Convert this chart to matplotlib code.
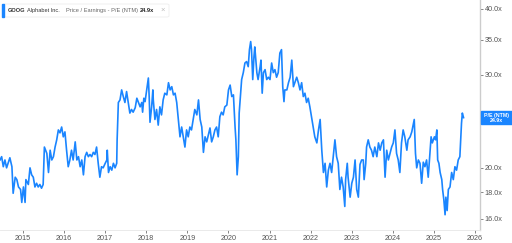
import matplotlib
matplotlib.use("Agg")
import matplotlib.pyplot as plt
import numpy as np
from matplotlib.patches import FancyBboxPatch, Rectangle

# GOOG forward P/E (NTM)
years = [
    2014.44, 2014.48, 2014.52, 2014.56, 2014.60, 2014.68, 2014.73, 2014.76, 2014.81, 2014.85,
    2014.89, 2014.94, 2014.97, 2015.01, 2015.05, 2015.07, 2015.13, 2015.17, 2015.21, 2015.25,
    2015.29, 2015.33, 2015.37, 2015.41, 2015.45, 2015.49, 2015.52, 2015.58, 2015.62, 2015.66,
    2015.70, 2015.74, 2015.78, 2015.82, 2015.86, 2015.90, 2015.94, 2015.98, 2016.02, 2016.06,
    2016.10, 2016.14, 2016.18, 2016.22, 2016.27, 2016.31, 2016.35, 2016.39, 2016.43, 2016.47,
    2016.51, 2016.55, 2016.59, 2016.63, 2016.67, 2016.71, 2016.75, 2016.79, 2016.83, 2016.87,
    2016.91, 2016.95, 2017.00, 2017.04, 2017.05, 2017.08, 2017.12, 2017.16, 2017.20, 2017.24,
    2017.28, 2017.29, 2017.32, 2017.36, 2017.40, 2017.44, 2017.48, 2017.52, 2017.56, 2017.60,
    2017.64, 2017.68, 2017.73, 2017.77, 2017.81, 2017.85, 2017.89, 2017.91, 2017.94, 2017.97,
    2018.01, 2018.05, 2018.07, 2018.09, 2018.13, 2018.16, 2018.17, 2018.21, 2018.25, 2018.29,
    2018.33, 2018.37, 2018.41, 2018.45, 2018.50, 2018.54, 2018.58, 2018.62, 2018.66, 2018.70,
    2018.74, 2018.78, 2018.82, 2018.86, 2018.90, 2018.94, 2018.98, 2019.02, 2019.06, 2019.10,
    2019.14, 2019.18, 2019.23, 2019.27, 2019.31, 2019.35, 2019.39, 2019.43, 2019.47, 2019.51,
    2019.55, 2019.59, 2019.63, 2019.67, 2019.71, 2019.75, 2019.79, 2019.83, 2019.87, 2019.91,
    2019.96, 2020.00, 2020.04, 2020.08, 2020.12, 2020.16, 2020.18, 2020.20, 2020.21, 2020.24,
    2020.26, 2020.30, 2020.32, 2020.36, 2020.40, 2020.44, 2020.48, 2020.51, 2020.54, 2020.56,
    2020.59, 2020.62, 2020.64, 2020.69, 2020.72, 2020.77, 2020.79, 2020.82, 2020.85, 2020.89,
    2020.93, 2020.97, 2021.01, 2021.05, 2021.09, 2021.13, 2021.17, 2021.21, 2021.25, 2021.29,
    2021.32, 2021.35, 2021.37, 2021.42, 2021.46, 2021.50, 2021.54, 2021.58, 2021.62, 2021.66,
    2021.70, 2021.74, 2021.78, 2021.82, 2021.86, 2021.90, 2021.94, 2021.98, 2022.02, 2022.06,
    2022.10, 2022.15, 2022.19, 2022.23, 2022.27, 2022.31, 2022.35, 2022.39, 2022.43, 2022.47,
    2022.51, 2022.55, 2022.59, 2022.63, 2022.67, 2022.71, 2022.75, 2022.79, 2022.83, 2022.85,
    2022.89, 2022.91, 2022.96, 2023.00, 2023.04, 2023.08, 2023.12, 2023.16, 2023.20, 2023.24,
    2023.28, 2023.30, 2023.34, 2023.36, 2023.40, 2023.44, 2023.48, 2023.52, 2023.56, 2023.61,
    2023.65, 2023.69, 2023.73, 2023.77, 2023.81, 2023.85, 2023.89, 2023.93, 2023.97, 2024.01,
    2024.05, 2024.09, 2024.13, 2024.17, 2024.21, 2024.25, 2024.29, 2024.34, 2024.37, 2024.42,
    2024.46, 2024.50, 2024.52, 2024.55, 2024.58, 2024.62, 2024.66, 2024.70, 2024.74, 2024.78,
    2024.82, 2024.86, 2024.90, 2024.93, 2024.96, 2025.01, 2025.04, 2025.07, 2025.09, 2025.12,
    2025.15, 2025.19, 2025.21, 2025.24, 2025.27, 2025.29, 2025.32, 2025.35, 2025.39, 2025.43,
    2025.47, 2025.51, 2025.55, 2025.59, 2025.63, 2025.65, 2025.67, 2025.69, 2025.72,
]
pe = [
    20.7, 21.0, 20.1, 20.7, 20.0, 20.9, 20.1, 17.9, 19.2, 19.0,
    18.4, 18.2, 17.2, 18.4, 17.2, 19.0, 18.6, 20.0, 19.4, 19.2,
    18.4, 18.7, 18.4, 18.6, 18.3, 18.6, 21.9, 21.3, 19.6, 21.6,
    20.7, 21.0, 21.9, 22.6, 23.6, 23.3, 23.9, 22.9, 23.4, 21.6,
    20.1, 20.7, 21.6, 20.7, 22.4, 20.7, 21.0, 20.1, 20.7, 19.4,
    21.0, 21.4, 21.0, 21.2, 21.0, 21.4, 21.2, 21.9, 20.4, 19.2,
    20.1, 20.0, 20.4, 20.7, 21.6, 19.6, 20.1, 19.8, 20.4, 20.0,
    20.4, 22.6, 26.6, 26.9, 28.1, 27.3, 26.6, 27.9, 26.6, 25.4,
    25.8, 25.5, 26.0, 27.1, 26.6, 26.1, 26.6, 25.5, 27.1, 26.7,
    28.1, 29.6, 27.3, 24.4, 26.1, 28.1, 26.9, 24.7, 25.8, 24.1,
    26.1, 25.2, 26.9, 27.7, 27.5, 29.0, 28.1, 28.5, 27.5, 27.7,
    26.6, 24.7, 22.9, 23.9, 22.9, 21.9, 23.6, 22.9, 23.9, 23.6,
    24.7, 25.8, 25.2, 26.9, 24.7, 23.9, 21.4, 22.9, 22.4, 23.1,
    23.8, 22.4, 22.9, 23.6, 23.9, 22.9, 25.0, 25.5, 25.2, 26.1,
    26.3, 28.1, 28.7, 27.3, 27.5, 23.9, 22.6, 20.4, 19.4, 21.0,
    25.4, 28.1, 29.4, 30.3, 31.6, 31.8, 31.1, 33.5, 34.7, 33.5,
    29.4, 32.5, 33.9, 30.3, 29.4, 31.1, 32.0, 27.7, 30.3, 30.7,
    29.4, 29.7, 29.4, 31.6, 30.3, 30.7, 29.7, 30.3, 33.0, 33.5,
    28.5, 26.7, 28.1, 28.1, 29.0, 29.7, 32.0, 28.5, 29.1, 29.7,
    29.0, 28.1, 29.0, 27.3, 27.7, 26.6, 27.1, 26.1, 25.0, 23.9,
    22.9, 22.3, 23.6, 24.7, 21.6, 19.6, 20.4, 18.4, 19.8, 20.4,
    19.6, 21.0, 22.6, 21.0, 20.4, 18.2, 19.2, 18.4, 16.9, 19.0,
    20.4, 19.2, 17.6, 18.7, 19.2, 20.7, 18.2, 17.6, 20.3, 20.7,
    20.7, 19.0, 20.4, 21.9, 22.6, 21.9, 21.6, 21.0, 21.9, 21.0,
    22.3, 21.6, 22.3, 22.6, 19.2, 21.6, 20.7, 21.3, 21.9, 22.3,
    23.6, 21.3, 20.7, 19.6, 22.3, 23.6, 22.9, 21.6, 22.6, 22.9,
    23.4, 24.3, 24.7, 21.3, 20.0, 20.7, 20.4, 18.7, 20.5, 20.1,
    20.7, 19.2, 21.3, 22.9, 22.3, 22.9, 22.6, 23.6, 20.7, 20.4,
    19.6, 19.0, 18.2, 17.4, 16.3, 17.6, 16.6, 18.2, 18.4, 19.6,
    19.0, 20.1, 19.8, 20.7, 21.0, 22.6, 24.3, 25.4, 24.9,
]
# 25.0x sits behind the last-value badge in the reference, so it is not labelled
ytick_vals = [16, 18, 20, 30, 35, 40]
xtick_years = list(range(2015, 2027))
ticker = "GOOG"
company = "Alphabet Inc."
metric = "Price / Earnings - P/E (NTM)"
last_label = "24.9x"
series_name = "P/E (NTM)"

plt.rcParams["font.family"] = ["Liberation Sans", "DejaVu Sans"]

blue = "#1a85ff"
W, H = 512, 243
fig = plt.figure(figsize=(W / 100, H / 100), dpi=100)
ax = fig.add_axes([0, 13 / H, 480 / W, 230 / H])

ax.plot(years, pe, color=blue, lw=1.2, solid_joinstyle="round")
ax.set_yscale("log")
ax.set_ylim(15.25, 41.6)
ax.set_xlim(2014.44, 2026.12)

ax.yaxis.tick_right()
ax.set_yticks(ytick_vals)
ax.set_yticklabels([f"{v:.1f}x" for v in ytick_vals])
ax.yaxis.set_minor_locator(matplotlib.ticker.NullLocator())
ax.set_xticks(xtick_years)
ax.set_xticklabels([str(y) for y in xtick_years])
ax.tick_params(axis="both", labelsize=5.2, colors="#555555", length=2, width=0.5, pad=1.5)

for s in ["top", "left"]:
    ax.spines[s].set_visible(False)
ax.spines["right"].set_color("#cccccc")
ax.spines["right"].set_linewidth(1.0)
ax.spines["bottom"].set_color("#e6e6e6")
ax.spines["bottom"].set_linewidth(0.6)

# header box
hdr = FancyBboxPatch((3 / W, 1 - 17 / H), 166 / W, 13 / H,
                     boxstyle="round,pad=0,rounding_size=0.004",
                     transform=fig.transFigure, facecolor="white",
                     edgecolor="#eeeeee", lw=0.6, zorder=5)
fig.patches.append(hdr)
fig.patches.append(Rectangle((2 / W, 1 - 17 / H), 2 / W, 13 / H,
                             transform=fig.transFigure, color=blue, zorder=6))
ty = 1 - 10.5 / H
fs = 4.1
fig.text(8 / W, ty, ticker, fontsize=fs, color="#333333", weight="bold", va="center", zorder=7)
fig.text(27 / W, ty, company, fontsize=fs, color="#333333", va="center", zorder=7)
fig.text(66 / W, ty, metric, fontsize=fs, color="#666666", va="center", zorder=7)
fig.text(140 / W, ty, last_label, fontsize=fs, color="#222222", weight="bold", va="center", zorder=7)
fig.text(160 / W, ty, "\u00d7", fontsize=5.5, color="#bbbbbb", va="center", zorder=7)

# last value badge on right axis
fig.patches.append(Rectangle((481 / W, 1 - 124 / H), 31 / W, 13 / H,
                             transform=fig.transFigure, color=blue, zorder=6))
lab_y = ax.transData.transform((2026, pe[-1]))[1] / fig.bbox.height
fig.text(496 / W, lab_y, series_name + "\n" + last_label, ha="center", va="center",
         fontsize=3.8, color="white", weight="bold", linespacing=0.95, zorder=7)

fig.savefig("out.png", dpi=100)
